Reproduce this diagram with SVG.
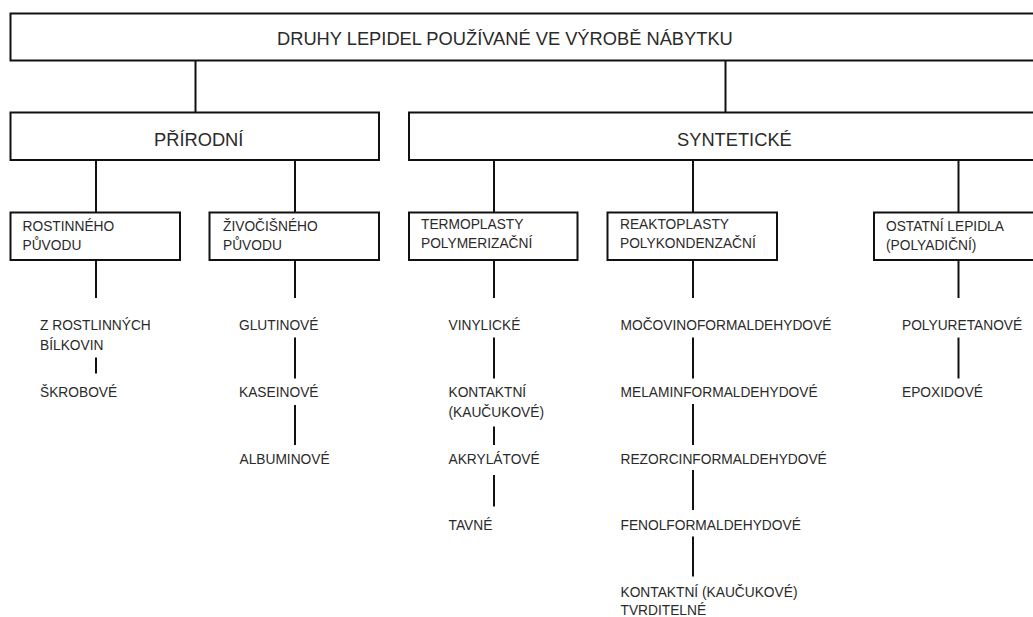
<svg xmlns="http://www.w3.org/2000/svg" width="1033" height="617" viewBox="0 0 1033 617">
<style>
.box{fill:#fff;stroke:#111;stroke-width:2}
.ln{stroke:#111;stroke-width:2;fill:none}
text{font-family:"Liberation Sans",Arial,sans-serif;fill:#2a2a2a}
.big{font-size:18.3px}
.sm{font-size:13.75px}
</style>
<rect width="1033" height="617" fill="#fff"/>
<g id="connectors">
<line class="ln" x1="195.5" y1="60.5" x2="195.5" y2="112.5"/>
<line class="ln" x1="725.5" y1="60.5" x2="725.5" y2="112.5"/>
<line class="ln" x1="96" y1="160" x2="96" y2="212.5"/>
<line class="ln" x1="295" y1="160" x2="295" y2="212.5"/>
<line class="ln" x1="494" y1="160" x2="494" y2="212.5"/>
<line class="ln" x1="693" y1="160" x2="693" y2="212.5"/>
<line class="ln" x1="958.5" y1="160" x2="958.5" y2="212.5"/>
<line class="ln" x1="96" y1="260" x2="96" y2="298"/>
<line class="ln" x1="295" y1="260" x2="295" y2="298"/>
<line class="ln" x1="494" y1="260" x2="494" y2="298"/>
<line class="ln" x1="693" y1="260" x2="693" y2="298"/>
<line class="ln" x1="958.5" y1="260" x2="958.5" y2="298"/>
<line class="ln" x1="96" y1="357.5" x2="96" y2="373.5"/>
<line class="ln" x1="295" y1="337.5" x2="295" y2="378.5"/>
<line class="ln" x1="295" y1="405" x2="295" y2="445"/>
<line class="ln" x1="494" y1="337.5" x2="494" y2="378.5"/>
<line class="ln" x1="494" y1="426.5" x2="494" y2="445"/>
<line class="ln" x1="494" y1="475" x2="494" y2="506.5"/>
<line class="ln" x1="693" y1="337.5" x2="693" y2="378.5"/>
<line class="ln" x1="693" y1="404" x2="693" y2="445"/>
<line class="ln" x1="693" y1="470" x2="693" y2="510"/>
<line class="ln" x1="693" y1="536.5" x2="693" y2="576.5"/>
<line class="ln" x1="958.5" y1="337.5" x2="958.5" y2="378.5"/>
</g>
<g id="root"><rect class="box" x="10.5" y="13.5" width="1040" height="47"/><text class="big" x="277" y="45">DRUHY LEPIDEL POUŽÍVANÉ VE VÝROBĚ NÁBYTKU</text></g>
<g id="prirodni"><rect class="box" x="10.5" y="112.5" width="368.5" height="47.5"/><text class="big" x="154" y="146">PŘÍRODNÍ</text></g>
<g id="synteticke"><rect class="box" x="409" y="112.5" width="640" height="47.5"/><text class="big" x="677" y="146">SYNTETICKÉ</text></g>
<g id="rostlinneho"><rect class="box" x="10.5" y="212.5" width="169.5" height="47.5"/><text class="sm" x="22.5" y="230.5">ROSTINNÉHO</text><text class="sm" x="22.5" y="250">PŮVODU</text></g>
<g id="zivocisneho"><rect class="box" x="209.5" y="212.5" width="169.5" height="47.5"/><text class="sm" x="223" y="230.5">ŽIVOČIŠNÉHO</text><text class="sm" x="223" y="250">PŮVODU</text></g>
<g id="termoplasty"><rect class="box" x="409" y="212.5" width="168.5" height="47.5"/><text class="sm" x="421" y="229">TERMOPLASTY</text><text class="sm" x="421" y="248">POLYMERIZAČNÍ</text></g>
<g id="reaktoplasty"><rect class="box" x="607.5" y="212.5" width="169.5" height="47.5"/><text class="sm" x="620" y="229">REAKTOPLASTY</text><text class="sm" x="620" y="248">POLYKONDENZAČNÍ</text></g>
<g id="ostatni"><rect class="box" x="874" y="212.5" width="200" height="47.5"/><text class="sm" x="886" y="230.5">OSTATNÍ LEPIDLA</text><text class="sm" x="886" y="249.5">(POLYADIČNÍ)</text></g>
<g id="z-rostlinnych"><text class="sm" x="40" y="330">Z ROSTLINNÝCH</text><text class="sm" x="40" y="350">BÍLKOVIN</text></g>
<g id="skrobove"><text class="sm" x="40" y="397">ŠKROBOVÉ</text></g>
<g id="glutinove"><text class="sm" x="239" y="330">GLUTINOVÉ</text></g>
<g id="kaseinove"><text class="sm" x="239" y="397">KASEINOVÉ</text></g>
<g id="albuminove"><text class="sm" x="239.5" y="463.5">ALBUMINOVÉ</text></g>
<g id="vinylicke"><text class="sm" x="448.5" y="330">VINYLICKÉ</text></g>
<g id="kontaktni"><text class="sm" x="448.5" y="397">KONTAKTNÍ</text><text class="sm" x="448.5" y="416.5">(KAUČUKOVÉ)</text></g>
<g id="akrylatove"><text class="sm" x="448.5" y="463.5">AKRYLÁTOVÉ</text></g>
<g id="tavne"><text class="sm" x="448.5" y="529.5">TAVNÉ</text></g>
<g id="mocovino"><text class="sm" x="620.5" y="330">MOČOVINOFORMALDEHYDOVÉ</text></g>
<g id="melamin"><text class="sm" x="620.5" y="397">MELAMINFORMALDEHYDOVÉ</text></g>
<g id="rezorcin"><text class="sm" x="620.5" y="463.5">REZORCINFORMALDEHYDOVÉ</text></g>
<g id="fenol"><text class="sm" x="620.5" y="529.5">FENOLFORMALDEHYDOVÉ</text></g>
<g id="kontaktni-tvrditelne"><text class="sm" x="620.5" y="596.5">KONTAKTNÍ (KAUČUKOVÉ)</text><text class="sm" x="620.5" y="614.5">TVRDITELNÉ</text></g>
<g id="polyuretanove"><text class="sm" x="902" y="330">POLYURETANOVÉ</text></g>
<g id="epoxidove"><text class="sm" x="902" y="397">EPOXIDOVÉ</text></g>
</svg>
